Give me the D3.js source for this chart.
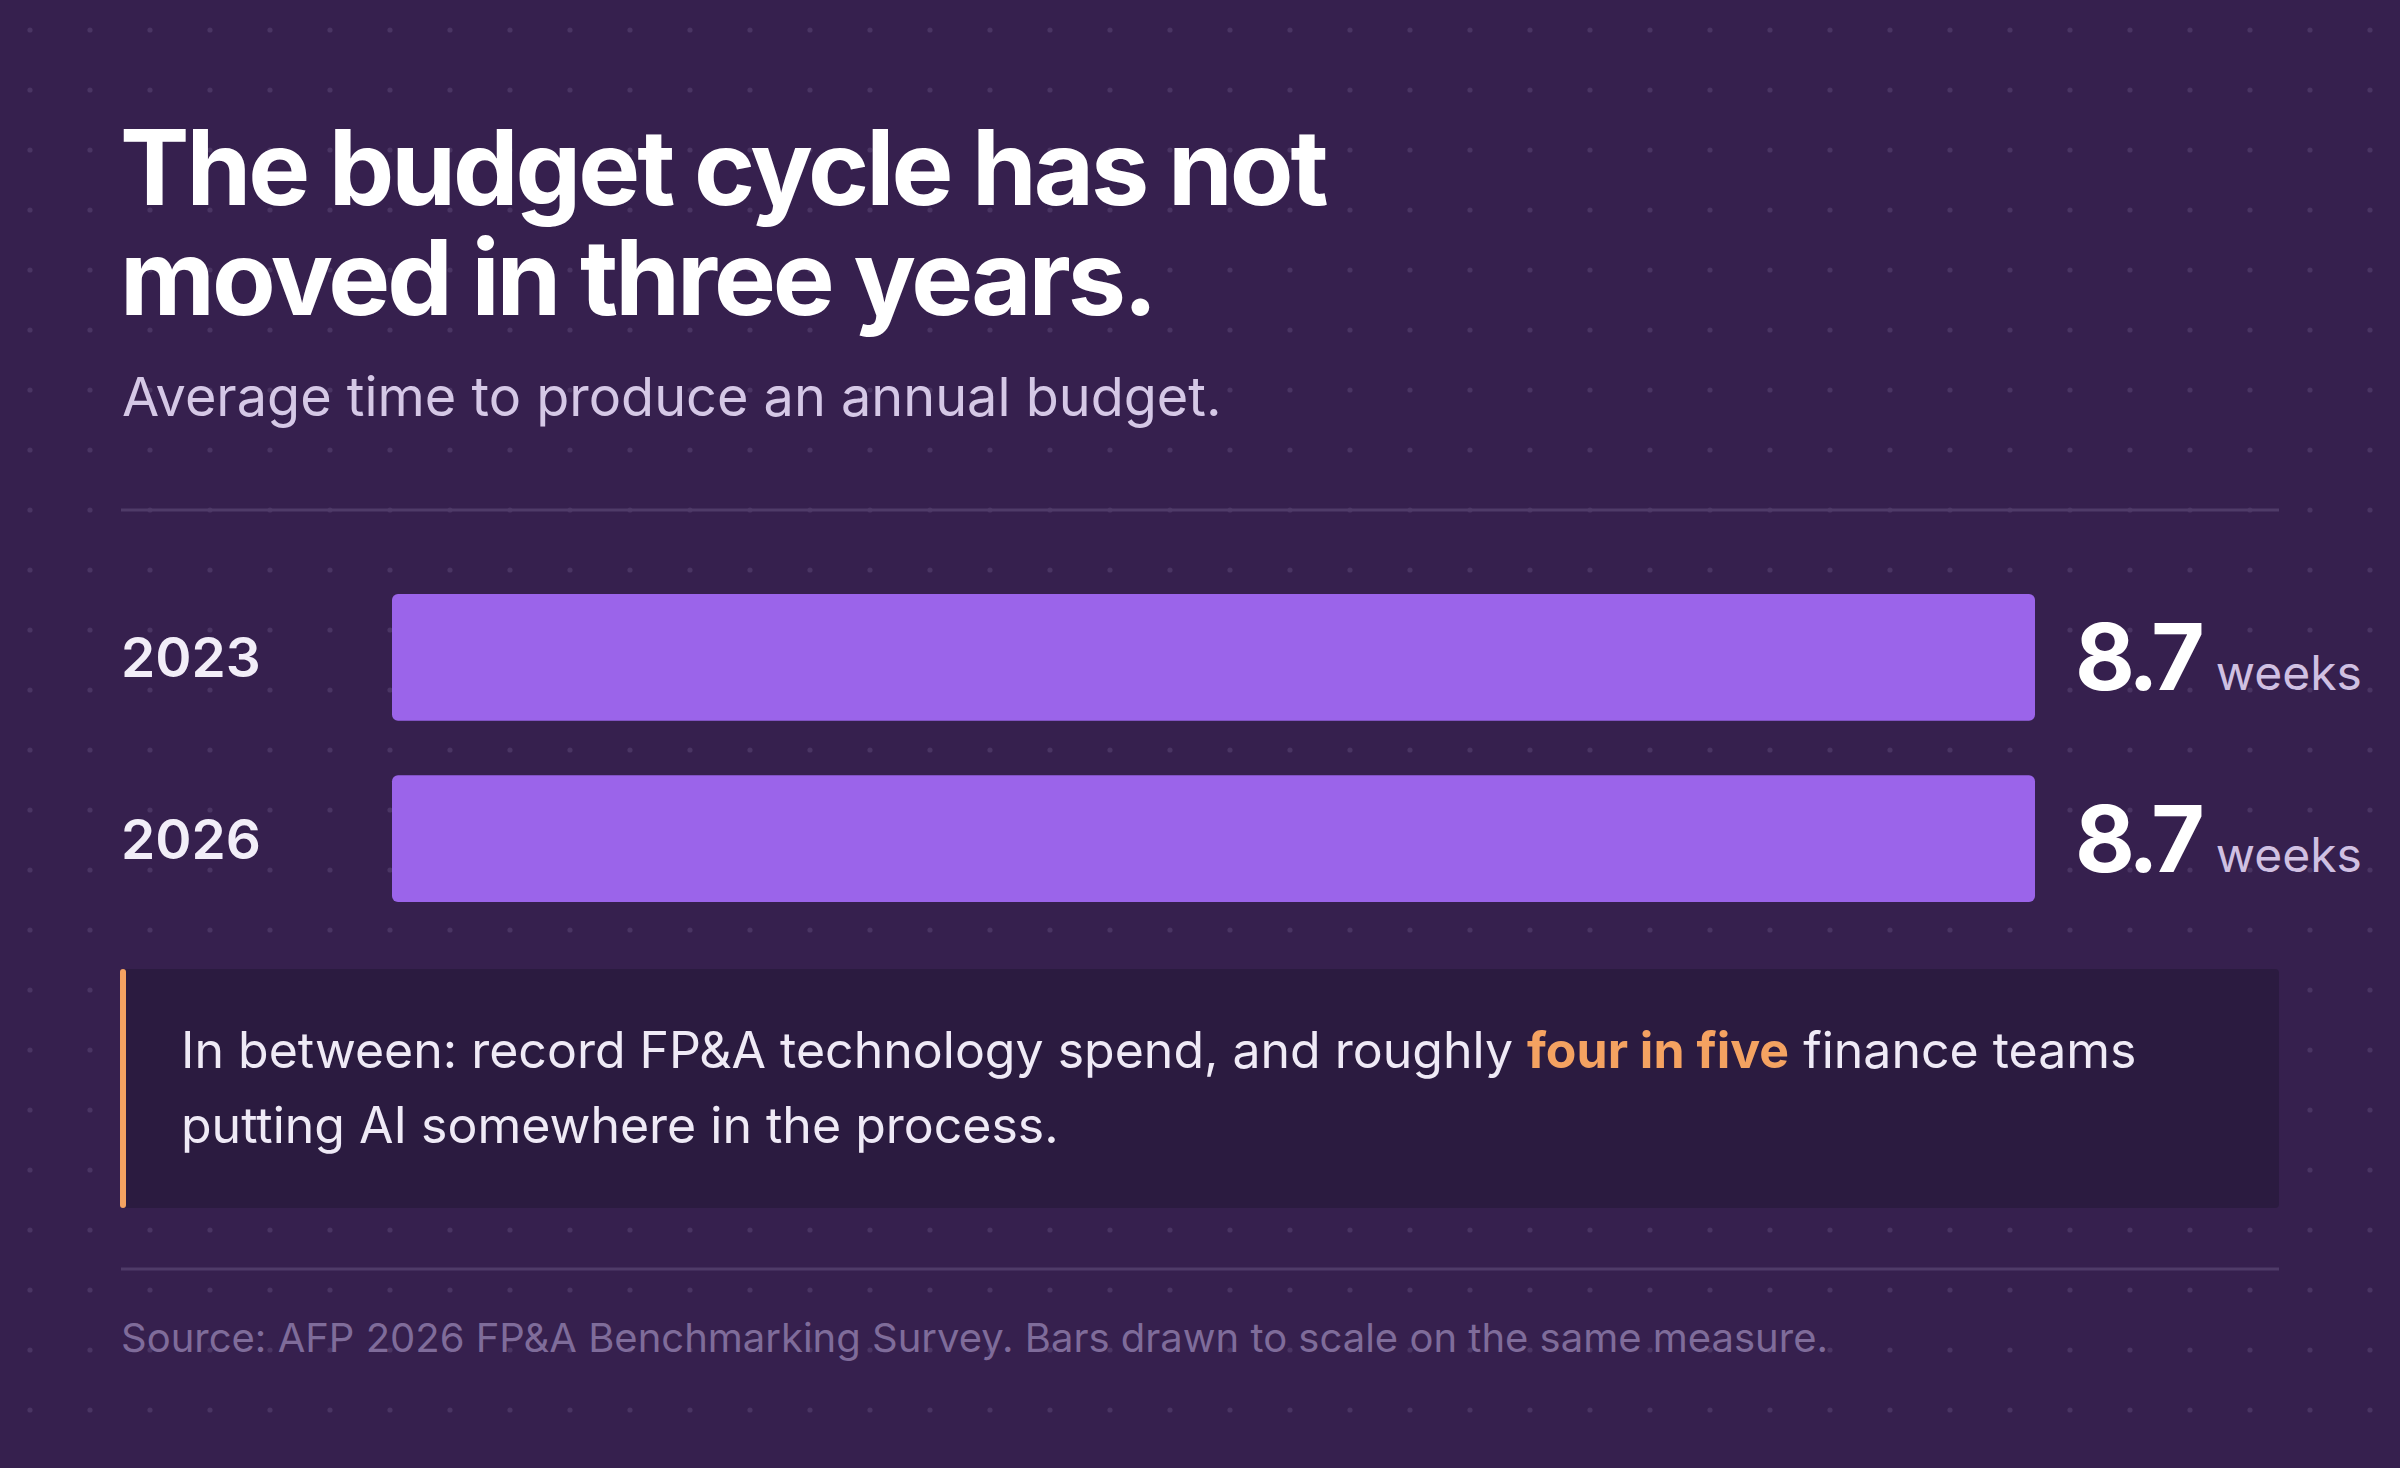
<!DOCTYPE html>
<html><head><meta charset="utf-8">
<script src="https://cdn.jsdelivr.net/npm/d3@7"></script>
<style>html,body{margin:0;padding:0;background:#36204e}svg{display:block}text{font-family:Inter,"Noto Sans",sans-serif}</style>
</head><body>
<script>
const years = ["2023", "2026"];
const weeks = [8.7, 8.7];
const titleLines = ["The budget cycle has not", "moved in three years."];
const subtitle = "Average time to produce an annual budget.";
const unitLabel = "weeks";
const source = "Source: AFP 2026 FP&A Benchmarking Survey. Bars drawn to scale on the same measure.";

const W = 2400, H = 1468;
const svg = d3.select("body").append("svg").attr("width", W).attr("height", H);
svg.append("rect").attr("width", W).attr("height", H).attr("fill", "#36204e");

// dot grid
const dots = [];
for (let x = 30; x < W; x += 60) for (let y = 30; y < H; y += 60) dots.push([x, y]);
svg.append("g").selectAll("circle").data(dots).join("circle")
  .attr("cx", d => d[0]).attr("cy", d => d[1]).attr("r", 2.6).attr("fill", "#4a3563");

// title
svg.append("g").selectAll("text").data(titleLines).join("text")
  .attr("x", 120).attr("y", (d, i) => 205 + i * 110)
  .attr("fill", "#ffffff").attr("font-size", 104).attr("font-weight", 700)
  .attr("letter-spacing", -3).text(d => d);
svg.append("text").attr("x", 122).attr("y", 416).attr("fill", "#d5c8e6")
  .attr("font-size", 54).text(subtitle);

// rules
[510, 1269].forEach(y => svg.append("line").attr("x1", 121).attr("x2", 2279)
  .attr("y1", y).attr("y2", y).attr("stroke", "#4f3b68").attr("stroke-width", 3));

// bars
const x = d3.scaleLinear().domain([0, 8.7]).range([392, 2035]);
const y = d3.scaleBand().domain(years).range([594, 902]).paddingInner(0.3);
const g = svg.append("g");
g.selectAll("rect.bar").data(years).join("rect").attr("class", "bar")
  .attr("x", x(0)).attr("y", d => y(d)).attr("width", (d, i) => x(weeks[i]) - x(0))
  .attr("height", y.bandwidth()).attr("rx", 6).attr("fill", "#9b64ea");
g.selectAll("text.yr").data(years).join("text").attr("class", "yr")
  .attr("x", 121).attr("y", d => y(d) + y.bandwidth() / 2 + 20)
  .attr("fill", "#f2eef8").attr("font-size", 55).attr("font-weight", 600).text(d => d);
const lab = g.selectAll("text.val").data(years).join("text").attr("class", "val")
  .attr("x", (d, i) => x(weeks[i]) + 40).attr("y", d => y(d) + y.bandwidth() / 2 + 33);
lab.append("tspan").attr("fill", "#ffffff").attr("font-size", 92).attr("font-weight", 700)
  .attr("letter-spacing", -5).text((d, i) => weeks[i].toFixed(1));
lab.append("tspan").attr("dx", 16).attr("fill", "#d0c0e2").attr("font-size", 48).text(unitLabel);

// callout
svg.append("rect").attr("x", 121).attr("y", 969).attr("width", 2158).attr("height", 239)
  .attr("rx", 4).attr("fill", "#2b1b40");
svg.append("rect").attr("x", 120).attr("y", 969).attr("width", 6).attr("height", 239)
  .attr("rx", 3).attr("fill", "#f4a261");
const t1 = svg.append("text").attr("x", 181).attr("y", 1068).attr("font-size", 50).attr("fill", "#efeaf6");
t1.append("tspan").text("In between: record FP&A technology spend, and roughly ");
t1.append("tspan").attr("fill", "#f4a261").attr("font-weight", 700).text("four in five");
t1.append("tspan").text(" finance teams");
svg.append("text").attr("x", 181).attr("y", 1143).attr("font-size", 50).attr("fill", "#efeaf6")
  .text("putting AI somewhere in the process.");

svg.append("text").attr("x", 121).attr("y", 1352).attr("font-size", 40).attr("fill", "#7f6c9a").text(source);
</script>
</body></html>
